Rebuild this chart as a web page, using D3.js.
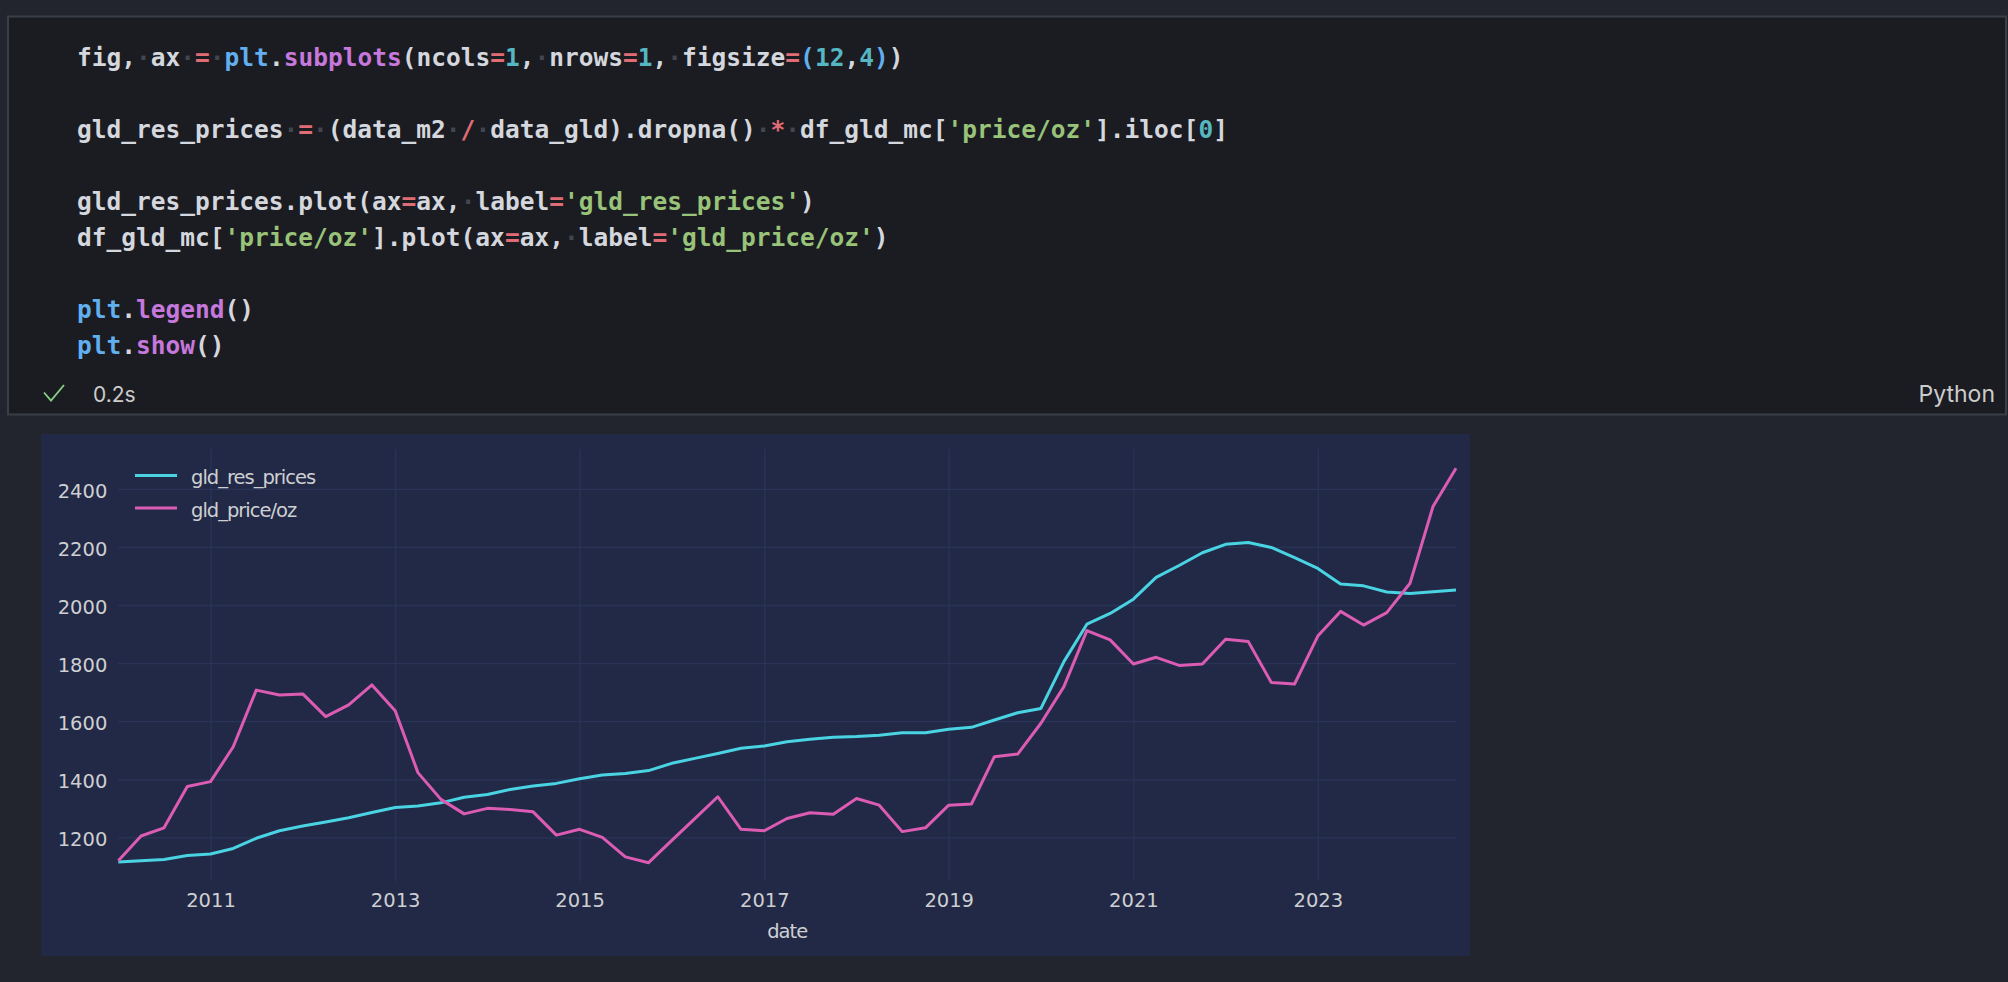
<!DOCTYPE html>
<html>
<head>
<meta charset="utf-8">
<script src="https://cdn.jsdelivr.net/npm/d3@7"></script>
<style>
  html, body { margin: 0; padding: 0; background: #22252d; }
  svg { display: block; }
</style>
</head>
<body>
<svg id="root" width="2008" height="982"></svg>
<script>
// ---------- DATA ----------
const dates = [
  "2010-01","2010-04","2010-07","2010-10","2011-01","2011-04","2011-07","2011-10",
  "2012-01","2012-04","2012-07","2012-10","2013-01","2013-04","2013-07","2013-10",
  "2014-01","2014-04","2014-07","2014-10","2015-01","2015-04","2015-07","2015-10",
  "2016-01","2016-04","2016-07","2016-10","2017-01","2017-04","2017-07","2017-10",
  "2018-01","2018-04","2018-07","2018-10","2019-01","2019-04","2019-07","2019-10",
  "2020-01","2020-04","2020-07","2020-10","2021-01","2021-04","2021-07","2021-10",
  "2022-01","2022-04","2022-07","2022-10","2023-01","2023-04","2023-07","2023-10",
  "2024-01","2024-04","2024-07"
];
const gldResPrices = [
  1115,1120,1124,1138,1143,1162,1197,1223,
  1239,1253,1268,1286,1303,1308,1319,1338,
  1348,1365,1377,1386,1402,1415,1420,1430,
  1455,1472,1489,1507,1515,1529,1538,1545,
  1547,1552,1560,1560,1572,1579,1604,1629,
  1644,1805,1934,1971,2020,2095,2136,2180,
  2209,2215,2198,2163,2126,2072,2066,2045,
  2040,2046,2052
];
const gldPriceOz = [
  1120,1205,1233,1375,1392,1512,1707,1690,
  1694,1616,1656,1725,1636,1423,1331,1281,
  1300,1296,1288,1208,1228,1200,1133,1113,
  1190,1265,1340,1228,1223,1265,1285,1280,
  1334,1311,1220,1233,1311,1315,1478,1487,
  1593,1719,1912,1880,1797,1820,1792,1797,
  1882,1874,1733,1728,1893,1978,1931,1974,
  2075,2339,2471
];
const seriesNames = ["gld_res_prices", "gld_price/oz"];
const xTickYears = ["2011","2013","2015","2017","2019","2021","2023"];
const yTickValues = [1200,1400,1600,1800,2000,2200,2400];
const xLabel = "date";

// ---------- CODE CELL TEXT ----------
const codeLines = [
  [["fig","D"],[",","D"],[" ","W"],["ax","D"],[" ","W"],["=","R"],[" ","W"],["plt","B"],[".","D"],["subplots","P"],["(","D"],["ncols","D"],["=","R"],["1","C"],[",","D"],[" ","W"],["nrows","D"],["=","R"],["1","C"],[",","D"],[" ","W"],["figsize","D"],["=","R"],["(","B"],["12","C"],[",","D"],["4","C"],[")","B"],[")","D"]],
  [],
  [["gld_res_prices","D"],[" ","W"],["=","R"],[" ","W"],["(","D"],["data_m2","D"],[" ","W"],["/","R"],[" ","W"],["data_gld","D"],[")","D"],[".","D"],["dropna","D"],["()","D"],[" ","W"],["*","R"],[" ","W"],["df_gld_mc","D"],["[","D"],["'price/oz'","G"],["]","D"],[".","D"],["iloc","D"],["[","D"],["0","C"],["]","D"]],
  [],
  [["gld_res_prices","D"],[".","D"],["plot","D"],["(","D"],["ax","D"],["=","R"],["ax","D"],[",","D"],[" ","W"],["label","D"],["=","R"],["'gld_res_prices'","G"],[")","D"]],
  [["df_gld_mc","D"],["[","D"],["'price/oz'","G"],["]","D"],[".","D"],["plot","D"],["(","D"],["ax","D"],["=","R"],["ax","D"],[",","D"],[" ","W"],["label","D"],["=","R"],["'gld_price/oz'","G"],[")","D"]],
  [],
  [["plt","B"],[".","D"],["legend","P"],["()","D"]],
  [["plt","B"],[".","D"],["show","P"],["()","D"]]
];
const tokenColors = { D:"#d4d7dd", R:"#e06c75", B:"#61afef", P:"#c678dd", C:"#56b6c2", G:"#98c379", W:"#41464f" };

// ---------- DRAW ----------
const svg = d3.select("#root");

svg.append("rect").attr("x",0).attr("y",0).attr("width",2008).attr("height",982).attr("fill","#22252d");

// code cell
svg.append("rect").attr("x",8).attr("y",16.5).attr("width",1998).attr("height",398)
  .attr("fill","#1b1c21").attr("stroke","#3a3e46").attr("stroke-width",2);

const codeG = svg.append("g");
codeLines.forEach((toks, i) => {
  if (!toks.length) return;
  const t = codeG.append("text")
    .attr("x", 77).attr("y", 65.5 + i * 36)
    .attr("font-family", "'DejaVu Sans Mono', 'Liberation Mono', monospace")
    .attr("font-size", 24.5)
    .attr("font-weight", "bold")
    .style("white-space", "pre");
  toks.forEach(([s, c]) => {
    t.append("tspan").attr("fill", tokenColors[c]).text(c === "W" ? "·" : s);
  });
});

// footer: check + time + language
svg.append("path").attr("d","M44,392.5 L51,400.5 L64,385")
  .attr("fill","none").attr("stroke","#89d185").attr("stroke-width",1.8);
svg.append("text").attr("x",93).attr("y",401.5)
  .attr("font-family","Inter, 'Noto Sans', sans-serif").attr("font-size",21)
  .attr("fill","#cccccc").text("0.2s");
svg.append("text").attr("x",1995).attr("y",401.5).attr("text-anchor","end")
  .attr("font-family","Inter, 'Noto Sans', sans-serif").attr("font-size",23)
  .attr("fill","#cccccc").text("Python");

// chart panel
svg.append("rect").attr("x",41).attr("y",434).attr("width",1429).attr("height",522).attr("fill","#212946");

const parseMonth = d3.utcParse("%Y-%m");
const xDates = dates.map(parseMonth);
const pLeft = 118.3, pRight = 1456, pTop = 449, pBottom = 881;

const xScale = d3.scaleUtc().domain([xDates[0], xDates[xDates.length - 1]]).range([pLeft, pRight]);
const yScale = d3.scaleLinear().domain([1050, 2537]).range([pBottom, pTop]);

const gridColor = "#2a3459";
const textColor = "#cfcfd2";
const chartFont = "'DejaVu Sans', sans-serif";

// gridlines
const xTickDates = xTickYears.map(d3.utcParse("%Y"));
svg.append("g").attr("transform", `translate(0,${pBottom})`)
  .call(d3.axisBottom(xScale).tickValues(xTickDates).tickSize(-(pBottom - pTop)).tickFormat(""))
  .call(g => g.select(".domain").remove())
  .call(g => g.selectAll("line").attr("stroke", gridColor).attr("stroke-width", 1.3));
svg.append("g").attr("transform", `translate(${pLeft},0)`)
  .call(d3.axisLeft(yScale).tickValues(yTickValues).tickSize(-(pRight - pLeft)).tickFormat(""))
  .call(g => g.select(".domain").remove())
  .call(g => g.selectAll("line").attr("stroke", gridColor).attr("stroke-width", 1.3));

// tick labels
svg.append("g").attr("transform", `translate(0,${pBottom})`)
  .call(d3.axisBottom(xScale).tickValues(xTickDates).tickSize(0).tickPadding(12).tickFormat(d3.utcFormat("%Y")))
  .call(g => g.select(".domain").remove())
  .call(g => g.selectAll("text").attr("fill", textColor).attr("font-family", chartFont).attr("font-size", 19.5));
svg.append("g").attr("transform", `translate(${pLeft},0)`)
  .call(d3.axisLeft(yScale).tickValues(yTickValues).tickSize(0).tickPadding(11).tickFormat(d3.format("d")))
  .call(g => g.select(".domain").remove())
  .call(g => g.selectAll("text").attr("fill", textColor).attr("font-family", chartFont)
      .attr("font-size", 19.5).attr("dy", "0.42em"));

// axis label
svg.append("text").attr("x", (pLeft + pRight) / 2).attr("y", 938)
  .attr("text-anchor","middle").attr("fill", textColor).attr("font-family", chartFont)
  .attr("font-size", 19.5).attr("letter-spacing", -1).text(xLabel);

// lines
const colors = ["#4ad3e2", "#dc5cb3"];
const seriesValues = [gldResPrices, gldPriceOz];
const lineGen = d3.line().x((d, i) => xScale(xDates[i])).y(d => yScale(d));
seriesValues.forEach((vals, k) => {
  svg.append("path").datum(vals).attr("d", lineGen)
    .attr("fill","none").attr("stroke", colors[k]).attr("stroke-width", 3)
    .attr("stroke-linejoin","round").attr("stroke-linecap","butt");
});

// legend
seriesNames.forEach((name, k) => {
  const ly = 475.5 + k * 32.5;
  svg.append("line").attr("x1",135).attr("x2",177).attr("y1",ly).attr("y2",ly)
    .attr("stroke", colors[k]).attr("stroke-width", 3);
  svg.append("text").attr("x",191).attr("y", ly + 8.5)
    .attr("fill", textColor).attr("font-family", chartFont).attr("font-size", 19.5)
    .attr("letter-spacing", -1).text(name);
});
</script>
</body>
</html>
